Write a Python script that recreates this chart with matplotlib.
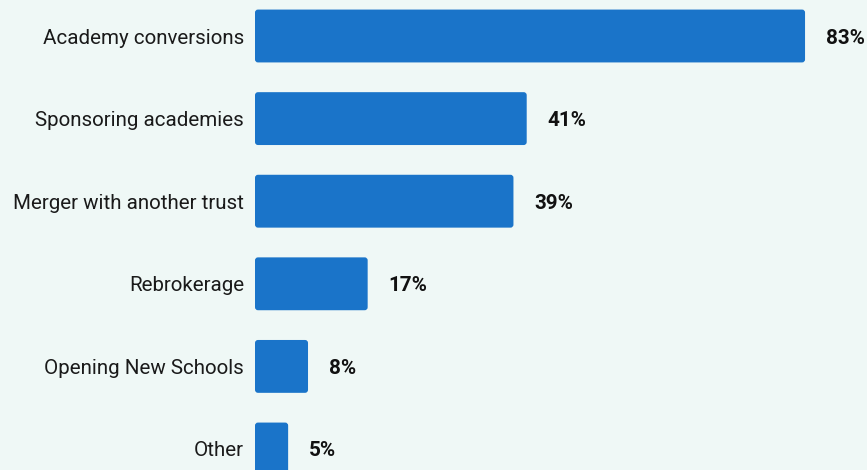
import matplotlib
matplotlib.use("Agg")
import matplotlib.pyplot as plt
from matplotlib.patches import FancyBboxPatch

categories = ["Academy conversions", "Sponsoring academies", "Merger with another trust",
              "Rebrokerage", "Opening New Schools", "Other"]
values = [83, 41, 39, 17, 8, 5]
value_labels = ["83%", "41%", "39%", "17%", "8%", "5%"]

BG = "#eff8f6"
BAR = "#1a74c9"

plt.rcParams["font.family"] = ["Roboto", "DejaVu Sans"]

fig = plt.figure(figsize=(8.67, 4.70), dpi=100, facecolor=BG)
ax = fig.add_axes([255 / 867, 0, 612 / 867, 1])
ax.set_facecolor(BG)

px_per_unit = 6.627
row_px = 82.6
ax.set_xlim(0, 612 / px_per_unit)
ax.set_ylim((470 - 36) / row_px, -36 / row_px)

ypos = list(range(len(categories)))
bars = ax.barh(ypos, values, height=0.64, color=BAR)

# replace plain rectangles with slightly rounded ones
r_x = 3 / px_per_unit
aspect = (3 / row_px) / r_x
for b in bars:
    x0, y0 = b.get_x(), b.get_y()
    w, h = b.get_width(), b.get_height()
    b.set_visible(False)
    p = FancyBboxPatch((x0, y0), w, h,
                       boxstyle=f"round,pad=0,rounding_size={r_x}",
                       mutation_aspect=aspect, facecolor=BAR, edgecolor="none",
                       clip_on=False)
    ax.add_patch(p)

for y, v, lab in zip(ypos, values, value_labels):
    ax.text(v + 21 / px_per_unit, y + 2 / row_px, lab, va="center", ha="left",
            fontsize=14.9, fontweight="bold", color="#111111")

ax.set_yticks(ypos)
ax.set_yticklabels(categories, fontsize=14.8, color="#1a1a1a")
ax.tick_params(axis="y", length=0, pad=8)
ax.set_xticks([])
for s in ax.spines.values():
    s.set_visible(False)

fig.savefig("out.png", dpi=100, facecolor=BG)
